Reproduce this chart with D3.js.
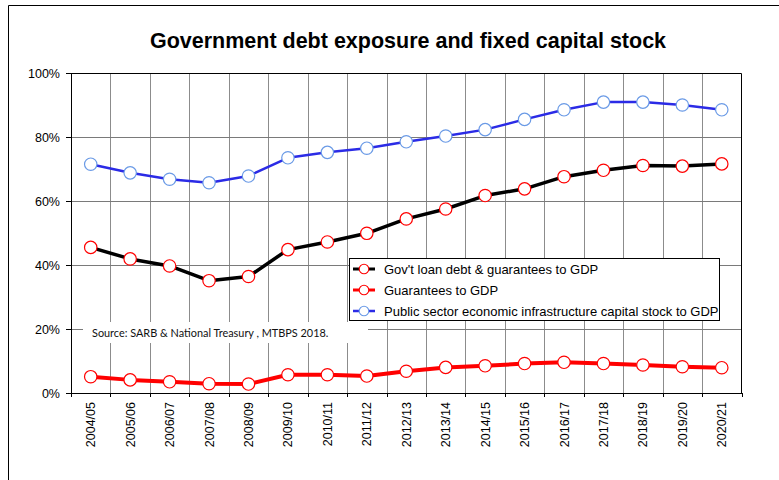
<!DOCTYPE html>
<html>
<head>
<meta charset="utf-8">
<script src="https://cdn.jsdelivr.net/npm/d3@7"></script>
<style>
  html, body { margin: 0; padding: 0; background: #fff; }
  svg { display: block; }
</style>
</head>
<body>
<svg id="chart" width="779" height="480"></svg>
<script>
const categories = ["2004/05","2005/06","2006/07","2007/08","2008/09","2009/10","2010/11","2011/12","2012/13","2013/14","2014/15","2015/16","2016/17","2017/18","2018/19","2019/20","2020/21"];
const govDebt = [45.5, 41.9, 39.7, 35.1, 36.4, 44.8, 47.2, 49.9, 54.4, 57.5, 61.7, 63.8, 67.6, 69.6, 71.1, 70.9, 71.6];
const guarantees = [5.1, 4.1, 3.5, 2.9, 2.8, 5.7, 5.7, 5.3, 6.8, 8.0, 8.5, 9.2, 9.6, 9.2, 8.75, 8.2, 7.9];
const capitalStock = [71.5, 68.8, 66.8, 65.7, 67.8, 73.5, 75.2, 76.5, 78.5, 80.3, 82.3, 85.5, 88.5, 90.9, 90.9, 90.0, 88.5];
const yTicks = [0, 20, 40, 60, 80, 100];
const seriesNames = ["Gov't loan debt & guarantees to GDP", "Guarantees to GDP", "Public sector economic infrastructure capital stock to GDP"];
const title = "Government debt exposure and fixed capital stock";
const sourceNote = "Source: SARB & National Treasury , MTBPS 2018.";

(function () {
const svg = d3.select("#chart");
const FONT = "'Liberation Sans', Arial, sans-serif";

// outer frame
svg.append("path").attr("d", "M8.5,480 L8.5,5.5 L779,5.5").attr("fill", "none").attr("stroke", "#000").attr("stroke-width", 1);

const pL = 71, pR = 741.5, pT = 73, pB = 393;
const x = d3.scaleBand().domain(categories).range([pL, pR]);
const y = d3.scaleLinear().domain([0, 100]).range([pB, pT]);

// title
svg.append("text").attr("x", 408).attr("y", 48).attr("text-anchor", "middle")
  .attr("font-family", FONT).attr("font-weight", "bold").attr("font-size", 21.5).text(title);

// vertical gridlines at category boundaries
const bounds = categories.slice(1).map(c => x(c));
svg.append("g").selectAll("line").data(bounds).join("line")
  .attr("x1", d => Math.round(d) + 0.5).attr("x2", d => Math.round(d) + 0.5)
  .attr("y1", pT).attr("y2", pB).attr("stroke", "#8c8c8c").attr("stroke-width", 1);

// horizontal gridlines
svg.append("g").selectAll("line").data(yTicks.filter(t => t > 0 && t < 100)).join("line")
  .attr("x1", pL).attr("x2", pR).attr("y1", d => Math.round(y(d)) + 0.5).attr("y2", d => Math.round(y(d)) + 0.5)
  .attr("stroke", "#7a7a7a").attr("stroke-width", 1);

// top and right border of plot
svg.append("path").attr("d", `M${pL},${pT + 0.5} L${pR},${pT + 0.5} L${pR},${pB}`)
  .attr("fill", "none").attr("stroke", "#000").attr("stroke-width", 1);

// source note box
svg.append("rect").attr("x", 83).attr("y", 322).attr("width", 285).attr("height", 21).attr("fill", "#fff");
svg.append("text").attr("x", 92).attr("y", 337).attr("font-family", "Lato, 'Open Sans', sans-serif")
  .attr("font-size", 10.9).attr("fill", "#111").text(sourceNote);

// y axis
const yAxis = d3.axisLeft(y).tickValues(yTicks).tickFormat(d => d + "%").tickSize(5).tickPadding(6);
const gy = svg.append("g").attr("transform", `translate(${pL},0)`).call(yAxis);
gy.select(".domain").attr("stroke", "#000").attr("d", `M0.5,${pT}V${pB + 0.5}`);
gy.selectAll(".tick line").attr("stroke", "#000");
gy.selectAll(".tick text").attr("font-family", FONT).attr("font-size", 12.5).attr("fill", "#000");

// x axis
const gx = svg.append("g").attr("transform", `translate(0,${pB})`);
gx.append("line").attr("x1", pL).attr("x2", pR + 0.5).attr("y1", 0.5).attr("y2", 0.5).attr("stroke", "#000");
const allBounds = [pL].concat(bounds, [pR]);
gx.selectAll("line.tk").data(allBounds).join("line").attr("class", "tk")
  .attr("x1", d => Math.round(d) + 0.5).attr("x2", d => Math.round(d) + 0.5)
  .attr("y1", 0).attr("y2", 4).attr("stroke", "#000");
gx.selectAll("text").data(categories).join("text")
  .attr("transform", d => `translate(${x(d) + x.bandwidth() / 2 + 4.5},9) rotate(-90)`)
  .attr("text-anchor", "end").attr("font-family", FONT).attr("font-size", 12.5).text(d => d);

// series
const series = [
  { name: seriesNames[0], values: govDebt, line: "#000", lw: 3.5, mk: "#ff0000" },
  { name: seriesNames[1], values: guarantees, line: "#ff0000", lw: 4, mk: "#ff0000" },
  { name: seriesNames[2], values: capitalStock, line: "#2b2be6", lw: 2.5, mk: "#6a9ae6" }
];
const cx = d => x(d) + x.bandwidth() / 2;
const lineGen = d3.line().x(d => cx(d.c)).y(d => y(d.v));
series.forEach(s => {
  const pts = categories.map((c, i) => ({ c, v: s.values[i] }));
  svg.append("path").datum(pts).attr("d", lineGen).attr("fill", "none")
    .attr("stroke", s.line).attr("stroke-width", s.lw).attr("stroke-linejoin", "round");
  svg.append("g").selectAll("circle").data(pts).join("circle")
    .attr("cx", d => cx(d.c)).attr("cy", d => y(d.v)).attr("r", 6.2)
    .attr("fill", "#fff").attr("stroke", s.mk).attr("stroke-width", 1.2);
});

// legend
const lg = svg.append("g");
lg.append("rect").attr("x", 349.5).attr("y", 258.5).attr("width", 370).attr("height", 62)
  .attr("fill", "#fff").attr("stroke", "#000").attr("stroke-width", 1);
series.forEach((s, i) => {
  const ly = 269 + i * 21;
  lg.append("line").attr("x1", 353).attr("x2", 375).attr("y1", ly).attr("y2", ly)
    .attr("stroke", s.line).attr("stroke-width", Math.min(s.lw, 3));
  lg.append("circle").attr("cx", 364).attr("cy", ly).attr("r", 4.8)
    .attr("fill", "#fff").attr("stroke", s.mk).attr("stroke-width", 1.1);
  lg.append("text").attr("x", 384).attr("y", ly + 4.5).attr("font-family", FONT)
    .attr("font-size", 13).text(s.name);
});
})();
</script>
</body>
</html>
